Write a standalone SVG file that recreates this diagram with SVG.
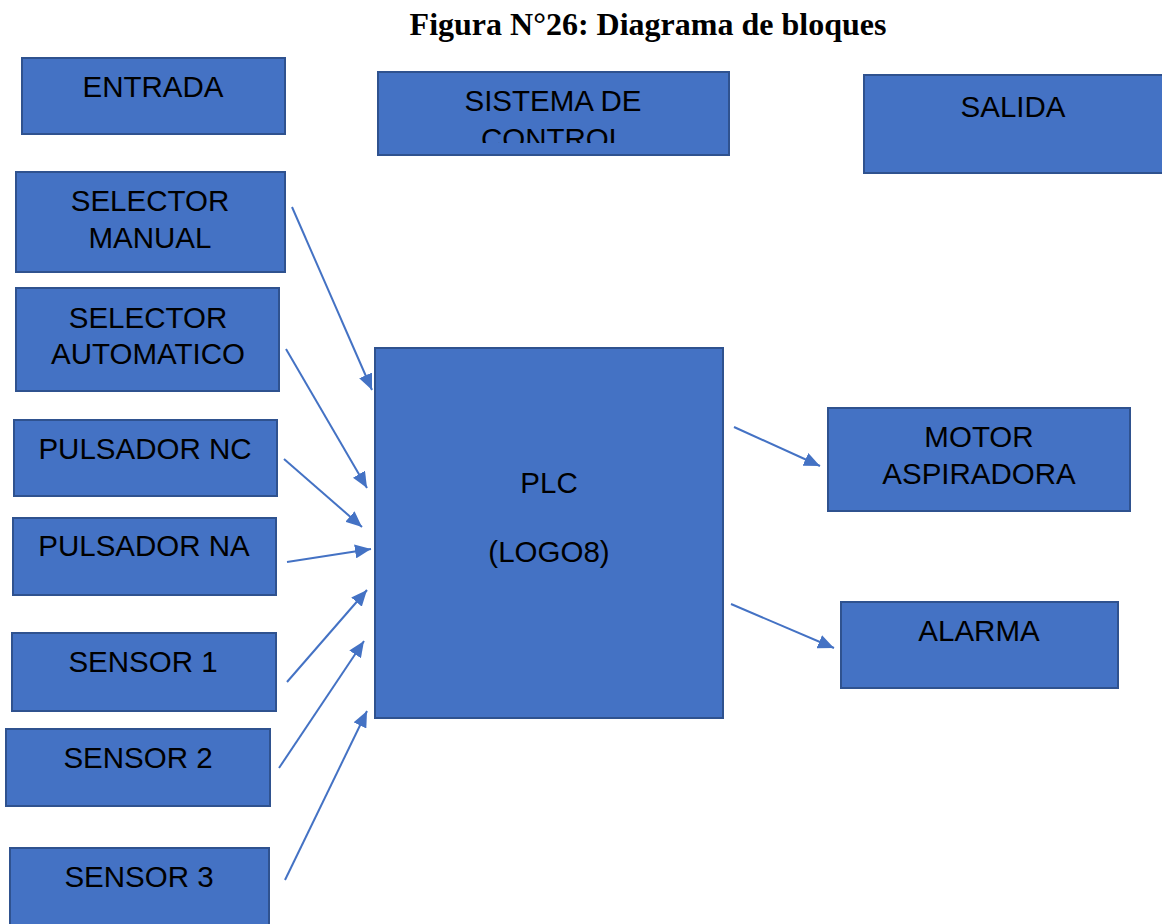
<svg xmlns="http://www.w3.org/2000/svg" width="1162" height="924" viewBox="0 0 1162 924">
<style>
.box{fill:#4472C4;stroke:#2F528F;stroke-width:2}
.t{font-family:"Liberation Sans",Arial,sans-serif;font-size:29.5px;fill:#000;text-anchor:middle}
.title{font-family:"Liberation Serif","Times New Roman",serif;font-size:32px;font-weight:bold;fill:#000;text-anchor:middle}
.c{stroke:#4472C4;stroke-width:2;fill:none;marker-end:url(#ah)}
</style>
<defs>
<marker id="ah" markerUnits="userSpaceOnUse" markerWidth="18" markerHeight="14" refX="16" refY="7" orient="auto">
<path d="M0,0 L16,7 L0,14 Z" fill="#4472C4"/>
</marker>
<clipPath id="clipSC"><rect x="378" y="72" width="352" height="71"/></clipPath>
</defs>
<rect width="1162" height="924" fill="#fff"/>
<text class="title" x="648" y="35">Figura N°26: Diagrama de bloques</text>
<g id="entrada"><rect class="box" x="22" y="58" width="263" height="76"/><text class="t" x="153" y="97">ENTRADA</text></g>
<g id="sistema"><rect class="box" x="378" y="72" width="351" height="83"/><g clip-path="url(#clipSC)"><text class="t" x="553" y="111">SISTEMA DE</text><text class="t" x="553" y="149">CONTROL</text></g></g>
<g id="salida"><rect class="box" x="864" y="75" width="300" height="98"/><text class="t" x="1013" y="117">SALIDA</text></g>
<g id="selman"><rect class="box" x="16" y="172" width="269" height="100"/><text class="t" x="150" y="211">SELECTOR</text><text class="t" x="150" y="248">MANUAL</text></g>
<g id="selauto"><rect class="box" x="16" y="288" width="263" height="103"/><text class="t" x="148" y="328">SELECTOR</text><text class="t" x="148" y="364">AUTOMATICO</text></g>
<g id="pnc"><rect class="box" x="14" y="420" width="263" height="76"/><text class="t" x="145" y="459">PULSADOR NC</text></g>
<g id="pna"><rect class="box" x="13" y="518" width="263" height="77"/><text class="t" x="144" y="556">PULSADOR NA</text></g>
<g id="s1"><rect class="box" x="12" y="633" width="264" height="78"/><text class="t" x="143" y="672">SENSOR 1</text></g>
<g id="s2"><rect class="box" x="6" y="729" width="264" height="77"/><text class="t" x="138" y="768">SENSOR 2</text></g>
<g id="s3"><rect class="box" x="10" y="848" width="259" height="80"/><text class="t" x="139" y="887">SENSOR 3</text></g>
<g id="plc"><rect class="box" x="375" y="348" width="348" height="370"/><text class="t" x="549" y="493">PLC</text><text class="t" x="549" y="562">(LOGO8)</text></g>
<g id="motor"><rect class="box" x="828" y="408" width="302" height="103"/><text class="t" x="979" y="447">MOTOR</text><text class="t" x="979" y="484">ASPIRADORA</text></g>
<g id="alarma"><rect class="box" x="841" y="602" width="277" height="86"/><text class="t" x="979" y="641">ALARMA</text></g>
<g id="connectors">
<line class="c" x1="292" y1="207" x2="372" y2="390"/>
<line class="c" x1="286" y1="349" x2="367" y2="488"/>
<line class="c" x1="284" y1="459" x2="362" y2="527"/>
<line class="c" x1="287" y1="562" x2="371" y2="549"/>
<line class="c" x1="287" y1="682" x2="367" y2="590"/>
<line class="c" x1="279" y1="768" x2="364" y2="641"/>
<line class="c" x1="285" y1="880" x2="367" y2="711"/>
<line class="c" x1="734" y1="427" x2="820" y2="466"/>
<line class="c" x1="731" y1="604" x2="834" y2="648"/>
</g>
</svg>
